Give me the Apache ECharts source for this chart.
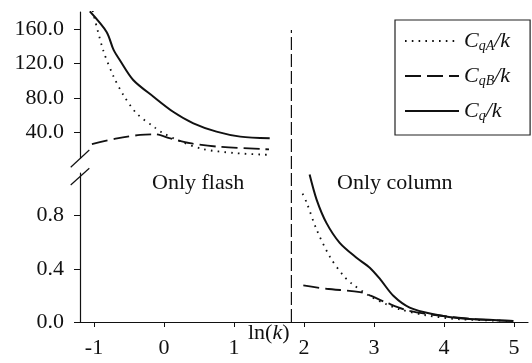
<!DOCTYPE html>
<html>
<head>
<meta charset="utf-8">
<script src="https://cdn.jsdelivr.net/npm/echarts@6/dist/echarts.min.js"></script>
<style>
  html, body { margin: 0; padding: 0; background: #fff; }
  #chart { width: 532px; height: 363px; }
</style>
</head>
<body>
<div id="chart"></div>
<script>
// ---- data ----
// upper panel ("Only flash"), y in original units
var cqFlashX  = [-1.06, -0.82, -0.72, -0.63, -0.44, -0.15, 0.13, 0.42, 0.75, 1.09, 1.51];
var cqFlashY  = [181, 157, 136, 124, 101, 81.5, 64, 50.5, 40.8, 35, 33];
var cqaFlashX = [-1.02, -0.87, -0.72, -0.58, -0.39, -0.13, -0.01, 0.25, 0.56, 0.99, 1.42, 1.5];
var cqaFlashY = [182, 136, 105, 83.5, 62, 45.5, 39, 29, 20.4, 16, 14, 13.8];
var cqbFlashX = [-1.03, -0.67, -0.34, -0.13, 0.09, 0.37, 0.75, 1.42, 1.5];
var cqbFlashY = [26.4, 33, 37, 37.7, 33, 27.3, 23.4, 20.4, 20.2];

// lower panel ("Only column")
var cqColX  = [2.08, 2.18, 2.32, 2.51, 2.75, 2.94, 3.09, 3.28, 3.51, 3.85, 4.23, 4.70, 4.99];
var cqColY  = [1.108, 0.92, 0.745, 0.595, 0.483, 0.408, 0.32, 0.195, 0.108, 0.058, 0.028, 0.015, 0.008];
var cqaColX = [1.98, 2.04, 2.18, 2.37, 2.56, 2.68, 2.94, 3.18, 3.37, 3.75, 4.23, 4.99];
var cqaColY = [0.965, 0.895, 0.695, 0.49, 0.35, 0.29, 0.195, 0.133, 0.095, 0.05, 0.02, 0.008];
var cqbColX = [1.99, 2.32, 2.80, 2.94, 3.18, 3.51, 3.99, 4.46, 4.99];
var cqbColY = [0.275, 0.25, 0.225, 0.2, 0.145, 0.083, 0.045, 0.02, 0.008];

// boundary between flash and column
var boundaryX = [1.82, 1.82];
var boundaryY = [0, 0.942];

var xTicks = [-1, 0, 1, 2, 3, 4, 5];
var topTicks = [40, 80, 120, 160];
var bottomTicks = [0, 0.4, 0.8];

var seriesNames = ['CqA', 'CqB', 'Cq'];
var legendText = {
  CqA: '{i|C}{s|qA}{i|/k}',
  CqB: '{i|C}{s|qB}{i|/k}',
  Cq:  '{i|C}{s|q}{i|/k}'
};

function zip(xs, ys) {
  var out = [];
  for (var i = 0; i < xs.length; i++) out.push([xs[i], ys[i]]);
  return out;
}

var serif = 'Liberation Serif, Times New Roman, serif';
var ink = '#111';

var dotted = { color: ink, width: 1.8, type: [1.6, 5.2] };
var dashed = { color: ink, width: 1.8, type: [16, 6] };
var solid  = { color: ink, width: 2 };

function line(name, data, idx, style) {
  return {
    name: name, type: 'line', data: data,
    xAxisIndex: idx, yAxisIndex: idx,
    symbol: 'none', smooth: 0.3, clip: true,
    lineStyle: style, itemStyle: { color: ink },
    emphasis: { disabled: true }
  };
}

var chart = echarts.init(document.getElementById('chart'));
chart.setOption({
  animation: false,
  backgroundColor: '#fff',
  grid: [
    { left: 80, right: 4, top: 12, height: 146 },
    { left: 80, right: 4, top: 173, bottom: 41 },
    { left: 80, right: 4, top: 12, bottom: 41 }
  ],
  xAxis: [
    { gridIndex: 0, type: 'value', min: -1.2, max: 5.2, show: false },
    {
      gridIndex: 1, type: 'value', min: -1.2, max: 5.2,
      splitLine: { show: false },
      axisLine: { onZero: false, lineStyle: { color: ink, width: 1.2 } },
      axisTick: { length: 5, customValues: xTicks, lineStyle: { color: ink } },
      axisLabel: { customValues: xTicks, margin: 15, color: ink, fontFamily: serif, fontSize: 22 }
    },
    { gridIndex: 2, type: 'value', min: -1.2, max: 5.2, show: false }
  ],
  yAxis: [
    {
      gridIndex: 0, type: 'value', min: 10.1, max: 180.2,
      splitLine: { show: false },
      axisLine: { show: true, onZero: false, lineStyle: { color: ink, width: 1.2 } },
      axisTick: { show: true, length: 6, customValues: topTicks, lineStyle: { color: ink } },
      axisLabel: {
        customValues: topTicks, margin: 16, color: ink, fontFamily: serif, fontSize: 22,
        formatter: function (v) { return v.toFixed(1); }
      }
    },
    {
      gridIndex: 1, type: 'value', min: 0, max: 1.12,
      splitLine: { show: false },
      axisLine: { show: true, onZero: false, lineStyle: { color: ink, width: 1.2 } },
      axisTick: { show: true, length: 6, customValues: bottomTicks, lineStyle: { color: ink } },
      axisLabel: {
        customValues: bottomTicks, margin: 16, color: ink, fontFamily: serif, fontSize: 22,
        formatter: function (v) { return v.toFixed(1); }
      }
    },
    { gridIndex: 2, type: 'value', min: 0, max: 1, show: false }
  ],
  legend: {
    data: seriesNames,
    orient: 'vertical',
    left: 395, top: 20,
    padding: [10, 20, 12, 9],
    itemWidth: 54, itemHeight: 14, itemGap: 12, itemTextGap: 18,
    borderColor: '#222', borderWidth: 1.2,
    selectedMode: false,
    itemStyle: { opacity: 0 },
    formatter: function (name) { return legendText[name]; },
    textStyle: {
      color: ink,
      rich: {
        i: { fontFamily: serif, fontStyle: 'italic', fontSize: 22, lineHeight: 24, color: ink, verticalAlign: 'middle' },
        s: { fontFamily: serif, fontStyle: 'italic', fontSize: 14, lineHeight: 12, color: ink, verticalAlign: 'bottom' }
      }
    }
  },
  graphic: [
    { type: 'text', left: 152, top: 172, style: { text: 'Only flash', font: '22px ' + serif, fill: ink } },
    { type: 'text', left: 337, top: 172, style: { text: 'Only column', font: '22px ' + serif, fill: ink } },
    {
      type: 'text', left: 248, top: 322,
      style: {
        text: '{r|ln(}{i|k}{r|)}', fill: ink,
        rich: {
          r: { fontFamily: serif, fontSize: 22, fill: ink },
          i: { fontFamily: serif, fontSize: 22, fontStyle: 'italic', fill: ink }
        }
      }
    },
    // axis break marks
    { type: 'line', shape: { x1: 70.7, y1: 167.3, x2: 89.3, y2: 150 }, style: { stroke: ink, lineWidth: 1.2 } },
    { type: 'line', shape: { x1: 70.7, y1: 185, x2: 89.3, y2: 168.3 }, style: { stroke: ink, lineWidth: 1.2 } }
  ],
  series: [
    line('CqA', zip(cqaFlashX, cqaFlashY), 0, dotted),
    line('CqB', zip(cqbFlashX, cqbFlashY), 0, dashed),
    line('Cq', zip(cqFlashX, cqFlashY), 0, solid),
    line('CqA', zip(cqaColX, cqaColY), 1, dotted),
    line('CqB', zip(cqbColX, cqbColY), 1, dashed),
    line('Cq', zip(cqColX, cqColY), 1, solid),
    {
      name: 'boundary', type: 'line', xAxisIndex: 2, yAxisIndex: 2,
      data: zip(boundaryX, boundaryY), symbol: 'none', silent: true,
      lineStyle: { color: ink, width: 1.2, type: [13, 4] }
    }
  ]
});
</script>
</body>
</html>
